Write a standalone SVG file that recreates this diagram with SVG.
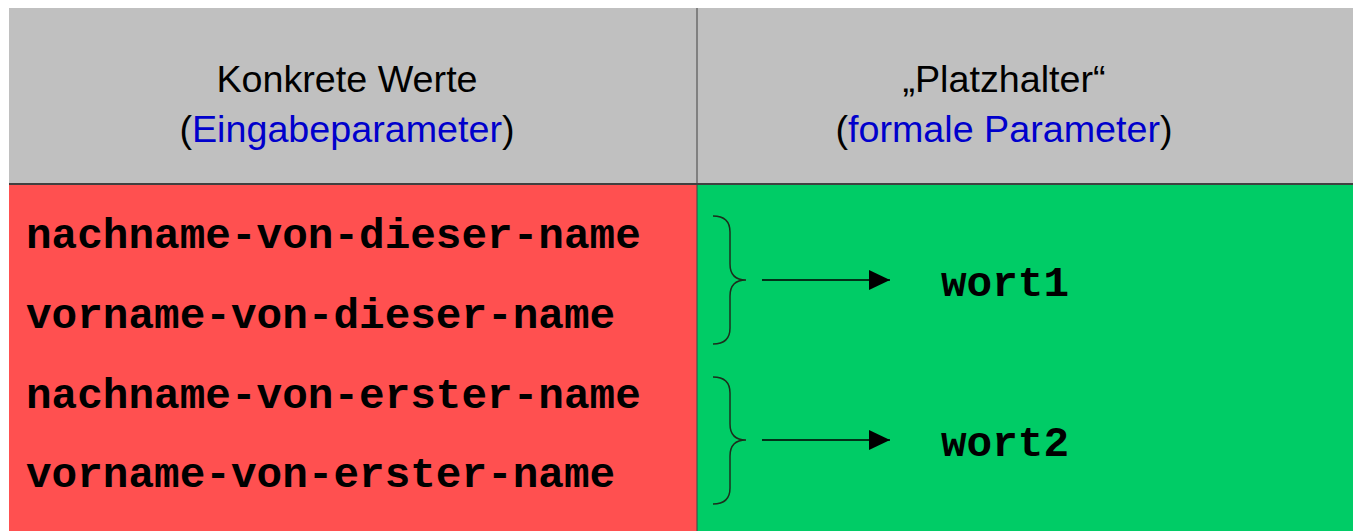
<svg xmlns="http://www.w3.org/2000/svg" width="1353" height="531" viewBox="0 0 1353 531">
<style>
.hd{font-family:"Liberation Sans",Arial,sans-serif;font-size:37.7px;text-anchor:middle;fill:#000}
.bl{fill:#0000cc}
.mono{font-family:"Liberation Mono","Courier New",monospace;font-weight:bold;font-size:42.7px;fill:#000}
.brace{fill:none;stroke:#1c2e1c;stroke-width:1.5}
.conn{stroke:#000;stroke-width:1.5;fill:none}
</style>
<defs>
<marker id="ah" markerWidth="21" markerHeight="20" refX="21" refY="10" markerUnits="userSpaceOnUse" orient="auto">
<path d="M0,0 L21,10 L0,20 Z" fill="#000"/>
</marker>
</defs>
<rect width="1353" height="531" fill="#fff"/>
<g id="header">
<rect x="9" y="8" width="1344" height="176" fill="#c0c0c0"/>
<text class="hd" x="347" y="92">Konkrete Werte</text>
<text class="hd" x="347" y="142">(<tspan class="bl">Eingabeparameter</tspan>)</text>
<text class="hd" x="1004" y="92">„Platzhalter“</text>
<text class="hd" x="1004" y="142">(<tspan class="bl">formale Parameter</tspan>)</text>
</g>
<g id="values">
<rect x="9" y="184" width="688" height="347" fill="#ff5050"/>
<text class="mono" x="26" y="248">nachname-von-dieser-name</text>
<text class="mono" x="26" y="328">vorname-von-dieser-name</text>
<text class="mono" x="26" y="408">nachname-von-erster-name</text>
<text class="mono" x="26" y="487">vorname-von-erster-name</text>
</g>
<g id="params">
<rect x="697" y="184" width="656" height="347" fill="#00cc66"/>
<path class="brace" d="M713,216 Q730,216 730,232 L730,264 Q730,280 746,280 Q730,280 730,296 L730,328 Q730,344 713,344"/>
<path class="brace" d="M713,377 Q730,377 730,393 L730,424 Q730,440 746,440 Q730,440 730,456 L730,488 Q730,504 713,504"/>
<text class="mono" x="941" y="296">wort1</text>
<text class="mono" x="941" y="456">wort2</text>
</g>
<g id="lines">
<line x1="697" y1="8" x2="697" y2="531" stroke="#404040" stroke-width="1"/>
<line x1="9" y1="184" x2="1353" y2="184" stroke="#404040" stroke-width="2"/>
</g>
<g id="connectors">
<line class="conn" x1="762" y1="280" x2="890" y2="280" marker-end="url(#ah)"/>
<line class="conn" x1="762" y1="440" x2="890" y2="440" marker-end="url(#ah)"/>
</g>
</svg>
